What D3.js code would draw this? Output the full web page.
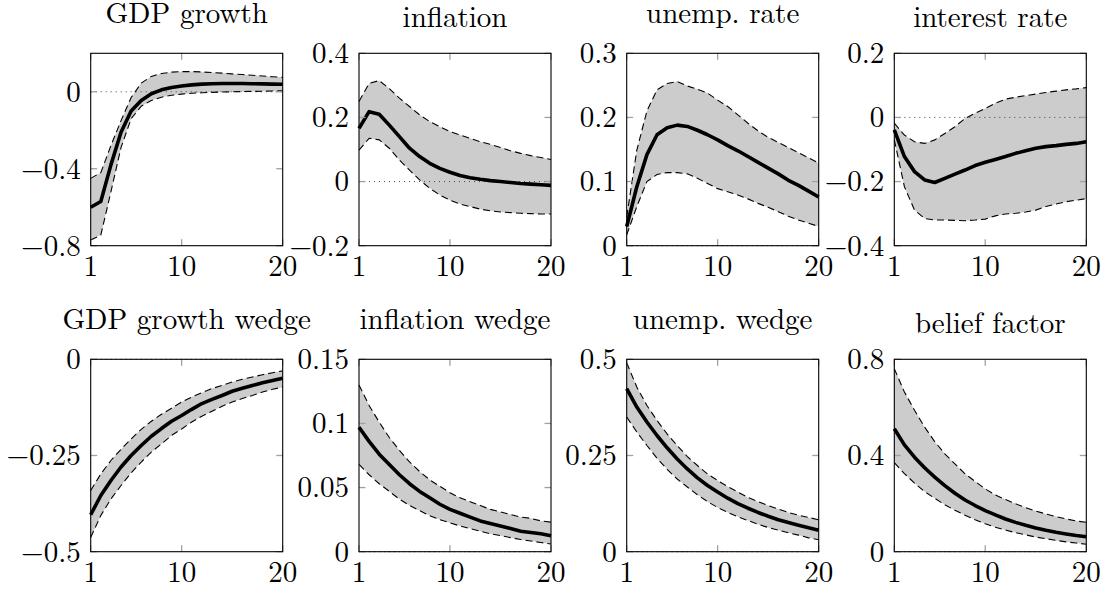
<!DOCTYPE html>
<html>
<head>
<meta charset="utf-8">
<script src="https://cdn.jsdelivr.net/npm/d3@7"></script>
<style>
  body { margin: 0; background: #fff; }
  svg text { font-family: "Latin Modern Roman", "CMU Serif", "Liberation Serif", serif; font-size: 29px; fill: #000; }
</style>
</head>
<body>
<div id="chart"></div>
<script>
var horizon = [1,2,3,4,5,6,7,8,9,10,11,12,13,14,15,16,17,18,19,20];
var xTicks = [1, 10, 20];

var titles = ["GDP growth", "inflation", "unemp. rate", "interest rate",
              "GDP growth wedge", "inflation wedge", "unemp. wedge", "belief factor"];
var yDomains = [[-0.8, 0.2], [-0.2, 0.4], [0, 0.3], [-0.4, 0.2],
                [-0.5, 0], [0, 0.15], [0, 0.5], [0, 0.8]];
var yTicks = [[-0.8, -0.4, 0], [-0.2, 0, 0.2, 0.4], [0, 0.1, 0.2, 0.3], [-0.4, -0.2, 0, 0.2],
              [-0.5, -0.25, 0], [0, 0.05, 0.1, 0.15], [0, 0.25, 0.5], [0, 0.4, 0.8]];

// median, lower and upper bands per panel
var gdpMed = [-0.60,-0.57,-0.38,-0.21,-0.10,-0.045,-0.01,0.01,0.022,0.03,0.036,0.04,0.042,0.043,0.043,0.043,0.042,0.041,0.04,0.039];
var gdpLo  = [-0.77,-0.745,-0.52,-0.29,-0.14,-0.075,-0.045,-0.028,-0.018,-0.012,-0.008,-0.005,-0.003,-0.001,0.0,0.001,0.002,0.003,0.004,0.005];
var gdpHi  = [-0.45,-0.42,-0.28,-0.15,-0.03,0.045,0.08,0.095,0.102,0.105,0.105,0.103,0.1,0.097,0.093,0.09,0.086,0.082,0.078,0.075];

var infMed = [0.166,0.218,0.21,0.176,0.14,0.104,0.078,0.057,0.041,0.029,0.019,0.012,0.007,0.003,0.0,-0.003,-0.006,-0.008,-0.010,-0.012];
var infLo  = [0.098,0.135,0.13,0.104,0.067,0.036,0.005,-0.021,-0.042,-0.058,-0.07,-0.078,-0.086,-0.091,-0.095,-0.097,-0.099,-0.100,-0.101,-0.101];
var infHi  = [0.25,0.306,0.315,0.29,0.26,0.234,0.208,0.187,0.171,0.156,0.145,0.135,0.124,0.116,0.106,0.096,0.088,0.081,0.075,0.069];

var unMed = [0.03,0.092,0.142,0.173,0.184,0.188,0.186,0.18,0.173,0.165,0.156,0.148,0.139,0.13,0.121,0.112,0.102,0.094,0.085,0.076];
var unLo  = [0.017,0.061,0.1,0.111,0.114,0.114,0.112,0.105,0.097,0.089,0.084,0.079,0.073,0.066,0.06,0.053,0.046,0.04,0.035,0.03];
var unHi  = [0.045,0.149,0.21,0.243,0.253,0.256,0.249,0.244,0.238,0.227,0.217,0.204,0.191,0.179,0.169,0.161,0.153,0.145,0.137,0.129];

var irMed = [-0.039,-0.122,-0.169,-0.195,-0.203,-0.19,-0.177,-0.164,-0.15,-0.14,-0.131,-0.122,-0.112,-0.104,-0.096,-0.091,-0.088,-0.084,-0.081,-0.076];
var irLo  = [-0.07,-0.216,-0.289,-0.315,-0.32,-0.32,-0.321,-0.322,-0.32,-0.317,-0.307,-0.301,-0.299,-0.295,-0.289,-0.278,-0.27,-0.263,-0.258,-0.253];
var irHi  = [-0.018,-0.055,-0.076,-0.081,-0.07,-0.05,-0.029,-0.003,0.013,0.028,0.044,0.057,0.063,0.068,0.073,0.078,0.082,0.086,0.089,0.093];

var gwMed = [-0.404,-0.354,-0.315,-0.28,-0.25,-0.224,-0.2,-0.18,-0.161,-0.146,-0.13,-0.115,-0.104,-0.094,-0.083,-0.075,-0.068,-0.061,-0.055,-0.049];
var gwLo  = [-0.463,-0.406,-0.363,-0.328,-0.295,-0.267,-0.241,-0.22,-0.198,-0.181,-0.163,-0.148,-0.135,-0.122,-0.111,-0.102,-0.094,-0.085,-0.078,-0.072];
var gwHi  = [-0.341,-0.298,-0.263,-0.234,-0.207,-0.182,-0.161,-0.143,-0.127,-0.111,-0.098,-0.087,-0.076,-0.068,-0.059,-0.052,-0.046,-0.04,-0.035,-0.03];

var iwMed = [0.097,0.086,0.076,0.068,0.06,0.053,0.047,0.042,0.037,0.033,0.03,0.027,0.024,0.022,0.02,0.018,0.016,0.015,0.014,0.0125];
var iwLo  = [0.068,0.06,0.053,0.047,0.041,0.036,0.032,0.028,0.025,0.0225,0.02,0.018,0.016,0.014,0.0125,0.011,0.0095,0.0083,0.0072,0.006];
var iwHi  = [0.13,0.114,0.101,0.089,0.079,0.07,0.0625,0.056,0.051,0.046,0.042,0.039,0.036,0.033,0.031,0.029,0.027,0.026,0.024,0.023];

var uwMed = [0.424,0.376,0.337,0.302,0.27,0.241,0.215,0.192,0.172,0.155,0.139,0.125,0.113,0.102,0.092,0.083,0.076,0.069,0.062,0.056];
var uwLo  = [0.35,0.311,0.276,0.243,0.214,0.189,0.168,0.148,0.13,0.115,0.102,0.091,0.081,0.071,0.063,0.056,0.049,0.043,0.036,0.031];
var uwHi  = [0.491,0.428,0.38,0.341,0.306,0.276,0.247,0.224,0.202,0.185,0.169,0.155,0.141,0.13,0.12,0.111,0.102,0.095,0.089,0.083];

var bfMed = [0.511,0.444,0.393,0.349,0.31,0.275,0.243,0.215,0.192,0.171,0.153,0.136,0.122,0.11,0.099,0.089,0.081,0.074,0.067,0.062];
var bfLo  = [0.37,0.325,0.285,0.25,0.222,0.195,0.172,0.152,0.133,0.116,0.102,0.09,0.079,0.07,0.061,0.054,0.047,0.041,0.036,0.031];
var bfHi  = [0.761,0.664,0.588,0.518,0.458,0.407,0.365,0.324,0.292,0.261,0.236,0.217,0.199,0.183,0.169,0.157,0.146,0.136,0.128,0.122];

var medians = [gdpMed, infMed, unMed, irMed, gwMed, iwMed, uwMed, bfMed];
var lows    = [gdpLo, infLo, unLo, irLo, gwLo, iwLo, uwLo, bfLo];
var highs   = [gdpHi, infHi, unHi, irHi, gwHi, iwHi, uwHi, bfHi];

var W = 1109, H = 590;
var colX = [90.7, 359, 626.7, 894.3], rowY = [53.3, 359.3];
var pw = 192, ph = 192.4, tl = 6.5;

var svg = d3.select("#chart").append("svg")
  .attr("width", W).attr("height", H)
  .attr("viewBox", "0 0 " + W + " " + H);

function panel(i)
{
  var g = svg.append("g")
    .attr("transform", "translate(" + colX[i % 4] + "," + rowY[Math.floor(i / 4)] + ")");

  var x = d3.scaleLinear().domain([1, 20]).range([0, pw]);
  var y = d3.scaleLinear().domain(yDomains[i]).range([ph, 0]);
  var med = medians[i], lo = lows[i], hi = highs[i];

  var band = d3.area()
    .x(function(d, k) { return x(horizon[k]); })
    .y0(function(d, k) { return y(lo[k]); })
    .y1(function(d, k) { return y(hi[k]); });
  var line = function(arr) {
    return d3.line().x(function(d, k) { return x(horizon[k]); }).y(function(d) { return y(d); })(arr);
  };

  g.append("path")
    .attr("d", band(horizon))
    .attr("fill", "#cccccc");

  // zero reference
  g.append("line")
    .attr("x1", x(1)).attr("x2", x(20))
    .attr("y1", y(0)).attr("y2", y(0))
    .attr("stroke", "#444").attr("stroke-width", 1)
    .attr("stroke-dasharray", "1,4");

  [lo, hi].forEach(function(arr) {
    g.append("path")
      .attr("d", line(arr))
      .attr("fill", "none")
      .attr("stroke", "#000").attr("stroke-width", 1.1)
      .attr("stroke-dasharray", "7,4");
  });

  g.append("path")
    .attr("d", line(med))
    .attr("fill", "none")
    .attr("stroke", "#000").attr("stroke-width", 3.6)
    .attr("stroke-linejoin", "round");

  // inner ticks
  var tk = g.append("g").attr("stroke", "#a0a0a0").attr("stroke-width", 1.3);
  xTicks.forEach(function(t) {
    tk.append("line").attr("x1", x(t)).attr("x2", x(t)).attr("y1", ph).attr("y2", ph - tl);
    tk.append("line").attr("x1", x(t)).attr("x2", x(t)).attr("y1", 0).attr("y2", tl);
  });
  yTicks[i].forEach(function(t) {
    tk.append("line").attr("x1", 0).attr("x2", tl).attr("y1", y(t)).attr("y2", y(t));
    tk.append("line").attr("x1", pw).attr("x2", pw - tl).attr("y1", y(t)).attr("y2", y(t));
  });

  g.append("rect")
    .attr("x", 0).attr("y", 0)
    .attr("width", pw).attr("height", ph)
    .attr("fill", "none")
    .attr("stroke", "#000").attr("stroke-width", 1.1);

  var fmt = d3.format("~g");
  yTicks[i].forEach(function(t) {
    g.append("text")
      .attr("x", -10).attr("y", y(t))
      .attr("dy", "0.34em")
      .attr("text-anchor", "end")
      .text(fmt(t));
  });
  xTicks.forEach(function(t) {
    g.append("text")
      .attr("x", x(t)).attr("y", ph + 30)
      .attr("text-anchor", "middle")
      .text(fmt(t));
  });

  // pgfplots puts the title box on the axis, so titles with descenders sit higher
  var gap = /[gjpqy]/.test(titles[i]) ? 30.5 : 26.5;
  g.append("text")
    .attr("x", pw / 2).attr("y", -gap)
    .attr("text-anchor", "middle")
    .text(titles[i]);
}

for (var i = 0; i < titles.length; i++) panel(i);
</script>
</body>
</html>
